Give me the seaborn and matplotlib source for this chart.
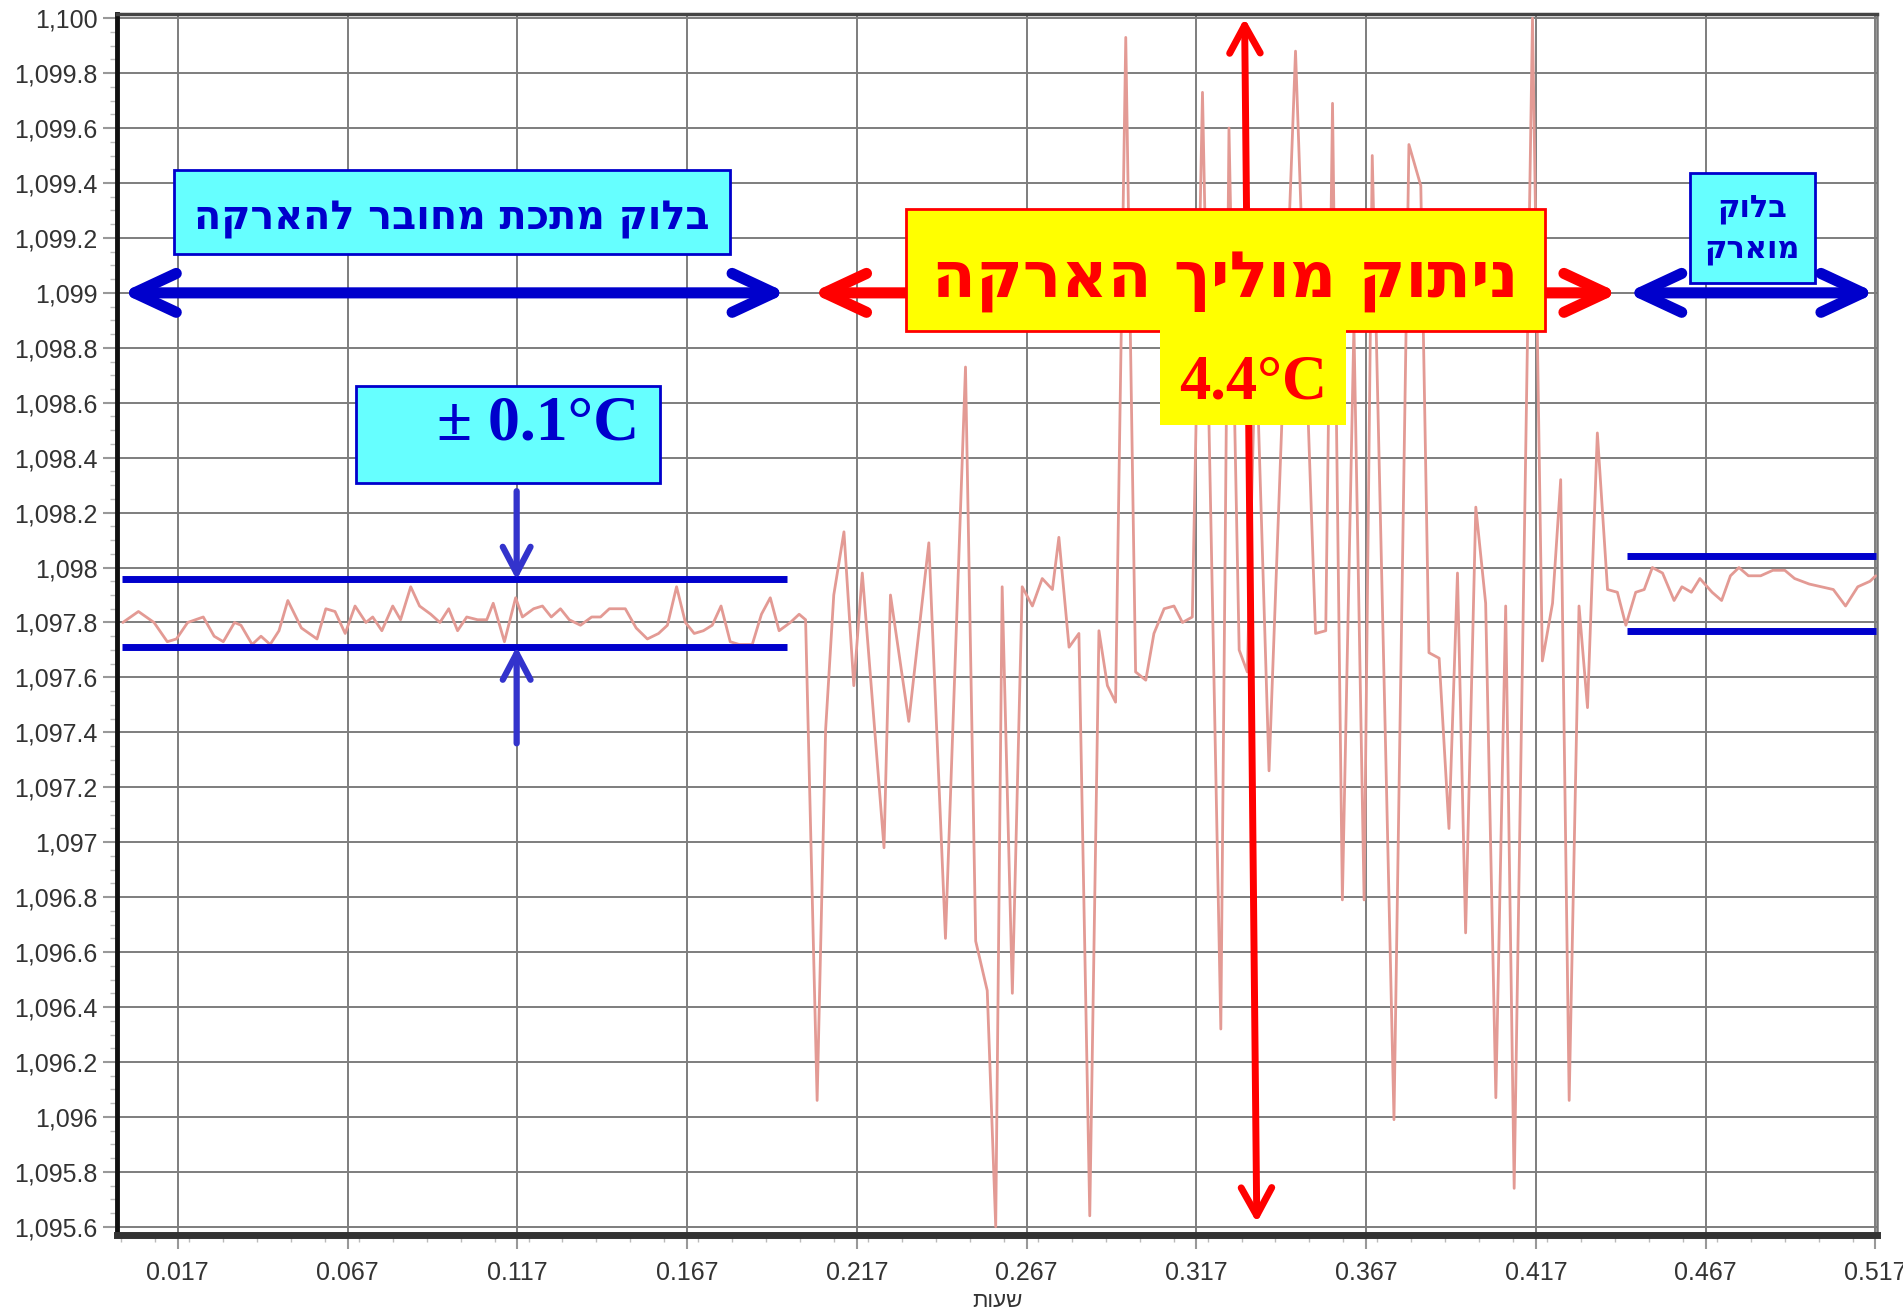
import numpy as np
import pandas as pd
import matplotlib
matplotlib.use("Agg")
import matplotlib.pyplot as plt
from matplotlib.patches import Rectangle, FancyArrowPatch
from matplotlib.ticker import FuncFormatter, MultipleLocator, FixedLocator
import seaborn as sns

# block temperature log, hours vs deg C
hours_grounded = [0.0005, 0.0051, 0.0097, 0.0136, 0.0163, 0.0196, 0.0242, 0.0274, 0.0301, 0.0334,
                  0.0353, 0.0386, 0.0412, 0.0439, 0.0465, 0.0491, 0.0531, 0.0577, 0.0603, 0.0630,
                  0.0660, 0.0689, 0.0721, 0.0741, 0.0768, 0.0800, 0.0823, 0.0853, 0.0879, 0.0912,
                  0.0939, 0.0965, 0.0991, 0.1018, 0.1050, 0.1077, 0.1096, 0.1129, 0.1162, 0.1182,
                  0.1215, 0.1241, 0.1267, 0.1294, 0.1320, 0.1353, 0.1386, 0.1412, 0.1438, 0.1485,
                  0.1517, 0.1550, 0.1583, 0.1609, 0.1636, 0.1662, 0.1688, 0.1715, 0.1741, 0.1767,
                  0.1794, 0.1820, 0.1859, 0.1886, 0.1912, 0.1938, 0.1971, 0.1997]
temp_grounded = [1097.80, 1097.84, 1097.80, 1097.73, 1097.74, 1097.80, 1097.82, 1097.75, 1097.73, 1097.80,
                 1097.79, 1097.72, 1097.75, 1097.72, 1097.77, 1097.88, 1097.78, 1097.74, 1097.85, 1097.84,
                 1097.76, 1097.86, 1097.80, 1097.82, 1097.77, 1097.86, 1097.81, 1097.93, 1097.86, 1097.83,
                 1097.80, 1097.85, 1097.77, 1097.82, 1097.81, 1097.81, 1097.87, 1097.73, 1097.89, 1097.82,
                 1097.85, 1097.86, 1097.82, 1097.85, 1097.81, 1097.79, 1097.82, 1097.82, 1097.85, 1097.85,
                 1097.78, 1097.74, 1097.76, 1097.79, 1097.93, 1097.80, 1097.76, 1097.77, 1097.79, 1097.86,
                 1097.73, 1097.72, 1097.72, 1097.83, 1097.89, 1097.77, 1097.80, 1097.83]

hours_cut = [0.2016, 0.2050, 0.2075, 0.2099, 0.2129, 0.2158, 0.2183, 0.2247, 0.2266, 0.2320,
             0.2379, 0.2428, 0.2487, 0.2517, 0.2551, 0.2576, 0.2595, 0.2625, 0.2654, 0.2684,
             0.2713, 0.2743, 0.2762, 0.2792, 0.2821, 0.2853, 0.2880, 0.2905, 0.2929, 0.2959,
             0.2988, 0.3018, 0.3042, 0.3072, 0.3101, 0.3126, 0.3155, 0.3185, 0.3239, 0.3263,
             0.3293, 0.3317, 0.3342, 0.3381, 0.3459, 0.3518, 0.3548, 0.3568, 0.3597, 0.3631,
             0.3661, 0.3685, 0.3749, 0.3793, 0.3828, 0.3852, 0.3882, 0.3911, 0.3936, 0.3960,
             0.3990, 0.4019, 0.4049, 0.4078, 0.4103, 0.4157, 0.4186, 0.4216, 0.4240, 0.4265,
             0.4294, 0.4319, 0.4348, 0.4378, 0.4407, 0.4432, 0.4461, 0.4486, 0.4510, 0.4540,
             0.4574, 0.4597]
temp_cut = [1097.81, 1096.06, 1097.41, 1097.90, 1098.13, 1097.57, 1097.98, 1096.98, 1097.90, 1097.44,
            1098.09, 1096.65, 1098.73, 1096.64, 1096.46, 1095.60, 1097.93, 1096.45, 1097.93, 1097.86,
            1097.96, 1097.92, 1098.11, 1097.71, 1097.76, 1095.64, 1097.77, 1097.57, 1097.51, 1099.93,
            1097.62, 1097.59, 1097.76, 1097.85, 1097.86, 1097.80, 1097.82, 1099.73, 1096.32, 1099.60,
            1097.70, 1097.62, 1098.85, 1097.26, 1099.88, 1097.76, 1097.77, 1099.69, 1096.79, 1098.88,
            1096.79, 1099.50, 1095.99, 1099.54, 1099.39, 1097.69, 1097.67, 1097.05, 1097.98, 1096.67,
            1098.22, 1097.87, 1096.07, 1097.86, 1095.74, 1100.00, 1097.66, 1097.87, 1098.32, 1096.06,
            1097.86, 1097.49, 1098.49, 1097.92, 1097.91, 1097.79, 1097.91, 1097.92, 1098.00, 1097.98,
            1097.88, 1097.93]

hours_regrounded = [0.4625, 0.4650, 0.4686, 0.4714, 0.4740, 0.4765, 0.4793, 0.4829, 0.4865, 0.4900,
                    0.4929, 0.4972, 0.5008, 0.5043, 0.5079, 0.5115, 0.5151, 0.5168]
temp_regrounded = [1097.91, 1097.96, 1097.91, 1097.88, 1097.97, 1098.00, 1097.97, 1097.97, 1097.99, 1097.99,
                   1097.96, 1097.94, 1097.93, 1097.92, 1097.86, 1097.93, 1097.95, 1097.97]

x_ticks = [0.0167, 0.0667, 0.1167, 0.1667, 0.2167, 0.2667, 0.3167, 0.3667, 0.4167, 0.4667, 0.5167]
x_tick_labels = ["0.017", "0.067", "0.117", "0.167", "0.217", "0.267", "0.317", "0.367", "0.417", "0.467", "0.517"]

BLUE = "#0000cc"
CYAN = "#66ffff"
RED = "#ff0000"
YELLOW = "#ffff00"
HEB = ["DejaVu Sans"]
SERIF = ["Liberation Serif", "DejaVu Serif"]


def heb(s):
    # no bidi in matplotlib: flip each line into visual order
    return "\n".join(line[::-1] for line in s.split("\n"))


def yfmt(v, pos):
    s = f"{v:,.1f}"
    return s[:-2] if s.endswith(".0") else s


def box(ax, x0, x1, y0, y1, fc, ec="none", lw=2.0, z=6):
    ax.add_patch(Rectangle((x0, y0), x1 - x0, y1 - y0, fc=fc, ec=ec, lw=lw, zorder=z, clip_on=False))


def arrow(ax, p0, p1, color, lw, style, z=5):
    ax.add_patch(FancyArrowPatch(p0, p1, arrowstyle=style, mutation_scale=20, color=color, lw=lw,
                                 capstyle="round", joinstyle="round", shrinkA=0, shrinkB=0,
                                 zorder=z, clip_on=False))


df = pd.DataFrame({
    "hours": hours_grounded + hours_cut + hours_regrounded,
    "temp": temp_grounded + temp_cut + temp_regrounded,
})

sns.set_style("white")
plt.rcParams["font.family"] = ["Liberation Sans", "DejaVu Sans"]

fig = plt.figure(figsize=(19.03, 13.14), dpi=100)
ax = fig.add_axes([0.0615, 0.0601, 0.9249, 0.9292])

sns.lineplot(data=df, x="hours", y="temp", ax=ax, color="#e39a94", lw=2.0,
             estimator=None, sort=False, zorder=3)

ax.set_xlim(-0.0012, 0.5172)
ax.set_ylim(1095.57, 1100.015)
ax.xaxis.set_major_locator(FixedLocator(x_ticks))
ax.set_xticklabels(x_tick_labels)
ax.xaxis.set_minor_locator(MultipleLocator(0.01))
ax.yaxis.set_major_locator(MultipleLocator(0.2))
ax.yaxis.set_minor_locator(MultipleLocator(0.05))
ax.yaxis.set_major_formatter(FuncFormatter(yfmt))

ax.grid(True, which="major", color="#7d7d7d", lw=1.4)
ax.tick_params(axis="both", which="major", direction="out", length=10, width=1.5, color="#999999",
               labelsize=18, labelcolor="#333333", pad=4, left=True, bottom=True)
ax.tick_params(axis="both", which="minor", direction="out", length=5, width=1.0, color="#bbbbbb",
               left=True, bottom=True)
ax.tick_params(axis="x", which="major", pad=9)
ax.set_xlabel(heb("שעות"), fontsize=16, color="#333333", labelpad=4)
ax.set_ylabel("")

for side, lw, col in [("left", 3.5, "#111111"), ("bottom", 5, "#333333"),
                      ("top", 2.5, "#444444"), ("right", 1.8, "#777777")]:
    ax.spines[side].set_visible(True)
    ax.spines[side].set_linewidth(lw)
    ax.spines[side].set_color(col)

# ---- annotations ----
# grounded block (left)
box(ax, 0.0156, 0.1793, 1099.143, 1099.448, CYAN, BLUE)
ax.text(0.0975, 1099.27, heb("בלוק מתכת מחובר להארקה"), ha="center", va="center", fontsize=28.5,
        fontweight="bold", color=BLUE, family=HEB, zorder=7)
arrow(ax, (0.0001, 1099.0), (0.1961, 1099.0), BLUE, 8, "<->,head_length=1.5,head_width=0.7")
ax.hlines([1097.959, 1097.712], 0.0003, 0.1961, color=BLUE, lw=5, zorder=4, capstyle="butt")

box(ax, 0.0692, 0.1586, 1098.307, 1098.661, CYAN, BLUE)
ax.text(0.1527, 1098.52, "± 0.1°C", ha="right", va="center", fontsize=46, fontweight="bold",
        color=BLUE, family=SERIF, zorder=7)
arrow(ax, (0.1165, 1098.278), (0.1165, 1097.955), "#3333cc", 4.5, "->,head_length=0.95,head_width=0.5")
arrow(ax, (0.1165, 1097.36), (0.1165, 1097.712), "#3333cc", 4.5, "->,head_length=0.95,head_width=0.5")

# disconnected ground (middle)
arrow(ax, (0.2034, 1099.0), (0.4411, 1099.0), RED, 8, "<->,head_length=1.5,head_width=0.7")
arrow(ax, (0.3309, 1100.0), (0.3345, 1095.615), RED, 5, "<->,head_length=1.0,head_width=0.55")
box(ax, 0.2311, 0.4193, 1098.862, 1099.306, YELLOW, RED, z=8)
box(ax, 0.3059, 0.3607, 1098.52, 1098.868, YELLOW, z=9)
ax.text(0.3252, 1099.04, heb("ניתוק מוליך הארקה"), ha="center", va="center", fontsize=46,
        fontweight="bold", color=RED, family=HEB, zorder=10)
ax.text(0.3333, 1098.67, "4.4°C", ha="center", va="center", fontsize=45, fontweight="bold",
        color=RED, family=SERIF, zorder=10)

# re-grounded block (right)
arrow(ax, (0.4435, 1099.0), (0.5168, 1099.0), BLUE, 8, "<->,head_length=1.5,head_width=0.7")
box(ax, 0.4620, 0.4988, 1099.037, 1099.437, CYAN, BLUE)
ax.text(0.4804, 1099.23, heb("בלוק\nמוארק"), ha="center", va="center", fontsize=22,
        fontweight="bold", color=BLUE, family=HEB, linespacing=1.45, zorder=7)
ax.hlines([1098.042, 1097.769], 0.4435, 0.5168, color=BLUE, lw=5, zorder=4, capstyle="butt")

fig.savefig("out.png", dpi=100, facecolor="white")
